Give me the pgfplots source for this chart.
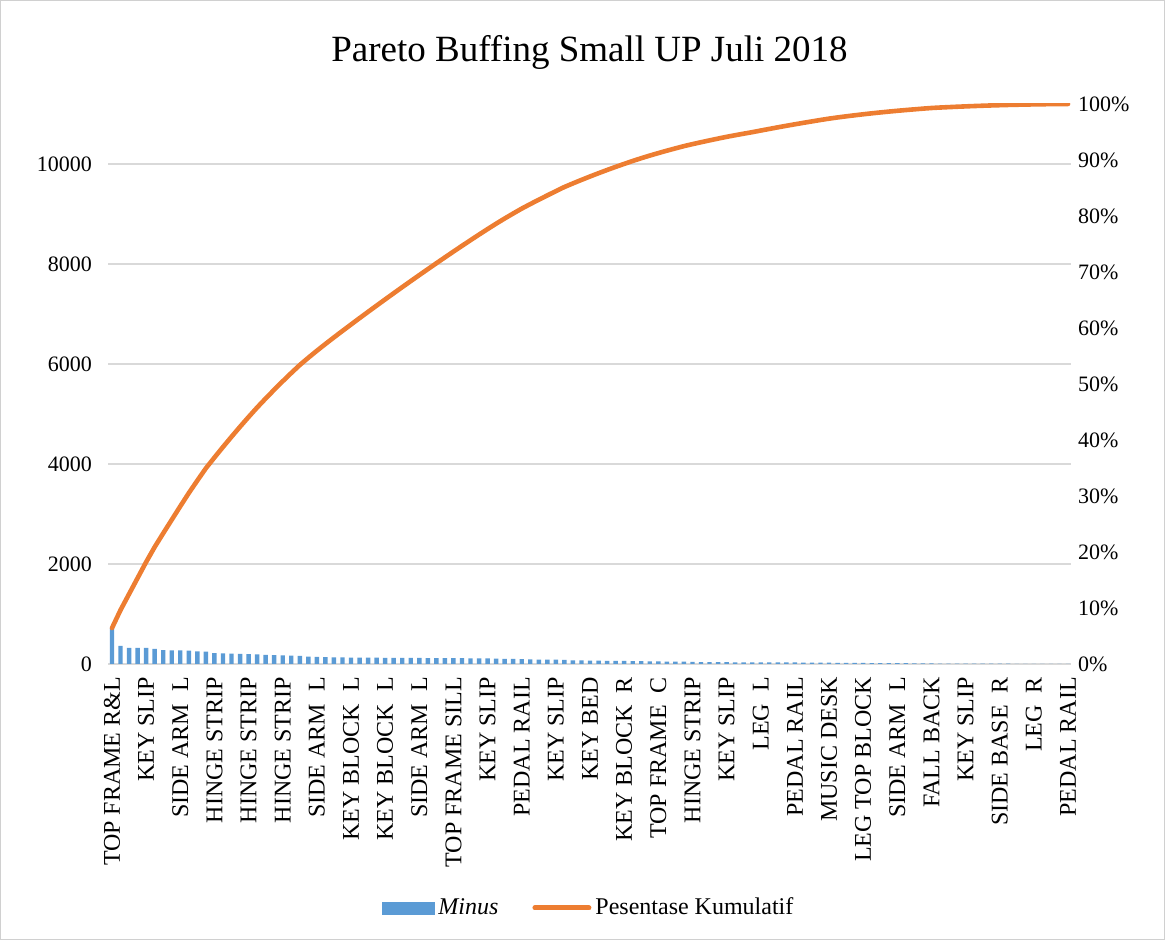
\documentclass[border=0pt]{standalone}
\usepackage{pgfplots}
\usepackage{pgfplotstable}
\pgfplotsset{compat=1.18}
\usepackage{fontspec}
\setmainfont{Liberation Serif}
\definecolor{barblue}{HTML}{5B9BD5}
\definecolor{lineorange}{HTML}{ED7D31}
\definecolor{gridgray}{HTML}{D9D9D9}
\definecolor{framegray}{HTML}{D0D0D0}

\pgfplotstableread{
x v
0 720
1 360
2 320
3 320
4 320
5 300
6 275
7 270
8 270
9 265
10 250
11 245
12 215
13 210
14 205
15 200
16 195
17 190
18 180
19 175
20 170
21 165
22 160
23 145
24 140
25 135
26 132
27 130
28 128
29 127
30 126
31 125
32 124
33 123
34 122
35 121
36 120
37 119
38 118
39 117
40 116
41 115
42 113
43 112
44 110
45 108
46 104
47 100
48 98
49 90
50 88
51 86
52 85
53 83
54 72
55 70
56 68
57 66
58 64
59 62
60 60
61 58
62 56
63 52
64 50
65 48
66 46
67 45
68 40
69 38
70 37
71 36
72 35
73 32
74 31
75 30
76 33
77 32
78 32
79 31
80 30
81 29
82 29
83 28
84 27
85 24
86 22
87 21
88 20
89 19
90 18
91 17
92 16
93 15
94 14
95 14
96 13
97 9
98 8
99 8
100 7
101 7
102 6
103 6
104 5
105 5
106 4
107 4
108 3
109 3
110 2
111 2
112 1
}\datatable
\pgfplotstablecreatecol[create col/expr accum={\pgfmathaccuma + \thisrow{v}}{0}]{cum}{\datatable}

\begin{document}
\begin{tikzpicture}
\pgfplotsset{
  every axis/.append style={
    scale only axis, width=481.5pt, height=280pt,
    xmin=-0.47, xmax=112.35,
    /pgf/number format/assume math mode=true,
    tick style={draw=none},
    major tick length=0pt,
  }
}
\begin{axis}[
  ymin=0, ymax=11200,
  scaled y ticks=false,
  axis x line*=bottom, axis y line*=left,
  x axis line style={draw=none},
  y axis line style={draw=none},
  ytick={0,2000,4000,6000,8000,10000},
  ymajorgrids, grid style={gridgray, line width=0.6pt},
  yticklabel style={font=\fontsize{11}{11}\selectfont, xshift=-4.5pt,
    /pgf/number format/set thousands separator={}},
  xtick={0,4,...,112},
  xticklabels={TOP FRAME R\&L, KEY SLIP, SIDE ARM\ \ L, HINGE STRIP, HINGE STRIP, HINGE STRIP, SIDE ARM\ \ L, KEY BLOCK\ \ L, KEY BLOCK\ \ L, SIDE ARM\ \ L, TOP FRAME SILL, KEY SLIP, PEDAL RAIL, KEY SLIP, KEY BED, KEY BLOCK\ \ R, TOP FRAME\ \ C, HINGE STRIP, KEY SLIP, LEG\ \ L, PEDAL RAIL, MUSIC DESK, LEG TOP BLOCK, SIDE ARM\ \ L, FALL BACK, KEY SLIP, SIDE BASE\ \ R, LEG\ \ R, PEDAL RAIL},
  xticklabel style={rotate=90, anchor=east, yshift=0pt, xshift=-3pt, font=\fontsize{12}{12}\selectfont},
  title={Pareto Buffing Small UP Juli 2018},
  title style={at={(0.5,1)}, anchor=center, yshift=20pt, font=\fontsize{18.5}{18.5}\selectfont},
]
\addplot[ybar, bar width=2.2pt, fill=barblue, draw=none] table[x=x, y=v] {\datatable};
\end{axis}
\begin{axis}[
  ymin=0, ymax=100,
  axis y line*=right, axis x line=none,
  y axis line style={draw=none},
  ytick={0,10,...,100},
  yticklabel={\pgfmathprintnumber{\tick}\%},
  yticklabel style={font=\fontsize{11}{11}\selectfont},
  legend style={at={(0.5,-0.4357)}, anchor=center, draw=none, fill=none,
    legend columns=2, font=\fontsize{12}{12}\selectfont,
    /tikz/every even column/.append style={column sep=15pt}},
]
\addlegendimage{legend image code/.code={\fill[barblue] (0pt,-3pt) rectangle (26pt,3pt);}}
\addlegendentry{\textit{Minus}}
\addplot[lineorange, line width=2.3pt, line cap=round, line join=round,
  legend image code/.code={\draw[lineorange, line width=2.5pt, line cap=round] (0pt,0pt) -- (27pt,0pt);}]
  table[x=x, y expr=\thisrow{cum}/112] {\datatable};
\addlegendentry{Pesentase Kumulatif}
\end{axis}
\pgfresetboundingbox
\path[use as bounding box] (-54pt,-138pt) rectangle (528.5pt,332pt);
\draw[framegray, line width=0.6pt] (-53.7pt,-137.7pt) rectangle (528.2pt,331.7pt);
\end{tikzpicture}
\end{document}
